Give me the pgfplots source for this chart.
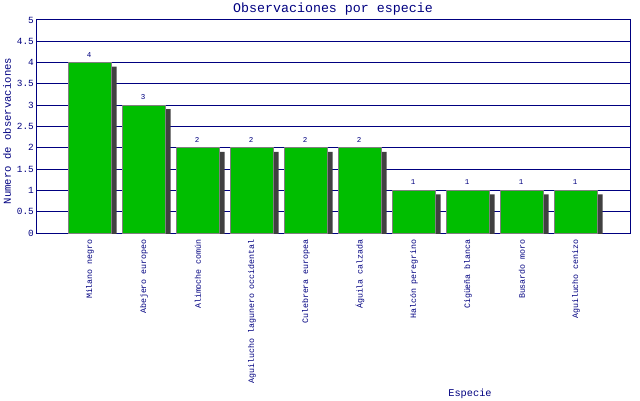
\documentclass[border=0pt]{standalone}
\usepackage{fontspec}
\setmainfont{Liberation Mono}
\usepackage{pgfplots}
\pgfplotsset{compat=1.18}
\definecolor{navyc}{RGB}{0,0,128}
\definecolor{barg}{RGB}{0,190,0}
\definecolor{shad}{RGB}{64,64,64}
\definecolor{edge}{RGB}{128,128,128}
\begin{document}
\begin{tikzpicture}[x=1bp,y=1bp]
\useasboundingbox (0,0) rectangle (640,400);
\begin{axis}[
  at={(36bp,167bp)}, anchor=south west,
  scale only axis, width=594bp, height=213bp,
  xmin=0, xmax=11, ymin=0, ymax=5,
  xtick={1,...,10},
  xticklabels={Milano negro,Abejero europeo,Alimoche común,Aguilucho lagunero occidental,Culebrera europea,Águila calzada,Halcón peregrino,Cigüeña blanca,Busardo moro,Aguilucho cenizo},
  ytick={0,0.5,...,5},
  major tick length=0pt,
  axis line style={navyc, line width=1bp},
  ymajorgrids, grid style={navyc, line width=1bp},
  /pgf/number format/assume math mode=true,
  xticklabel shift=6bp,
  xticklabel style={rotate=90, anchor=east, font=\fontsize{8.3bp}{9bp}\selectfont, text=navyc, inner sep=0pt},
  yticklabel style={font=\fontsize{9.4bp}{10bp}\selectfont, text=navyc, inner sep=1bp, xshift=-1bp},
]
\addplot[ybar, bar shift=0pt, bar width=43bp, fill=shad, draw=none, xshift=5bp, yshift=-4bp]
  coordinates {(1,4) (2,3) (3,2) (4,2) (5,2) (6,2) (7,1) (8,1) (9,1) (10,1)};
\addplot[ybar, bar shift=0pt, bar width=43bp, fill=barg, draw=edge, line width=1bp,
  nodes near coords, every node near coord/.append style={font=\fontsize{7.5bp}{8bp}\selectfont, text=navyc, inner sep=0pt, yshift=5bp, xshift=-1bp}]
  coordinates {(1,4) (2,3) (3,2) (4,2) (5,2) (6,2) (7,1) (8,1) (9,1) (10,1)};
\end{axis}
\node[font=\fontsize{13.3bp}{14bp}\selectfont, text=navyc] at (333,391) {Observaciones por especie};
\node[font=\fontsize{10.6bp}{11bp}\selectfont, text=navyc, rotate=90] at (7,269) {Numero de observaciones};
\node[font=\fontsize{10.3bp}{11bp}\selectfont, text=navyc] at (470,6) {Especie};
\end{tikzpicture}
\end{document}
